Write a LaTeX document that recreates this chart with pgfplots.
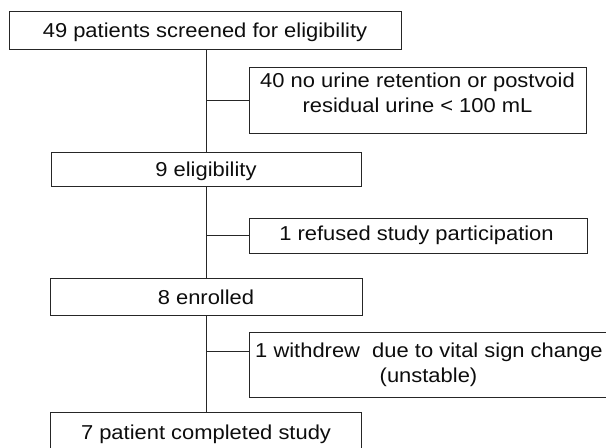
\documentclass[border=0pt]{standalone}
\usepackage{pgfplots}
\pgfplotsset{compat=1.18}
\usepackage{fontspec}
\setmainfont{Liberation Sans}[FakeStretch=1.09]
\begin{document}
\begin{tikzpicture}
\begin{axis}[at={(0,0)},anchor=south west, scale only axis,
  width=606bp, height=448bp, xmin=0, xmax=606, ymin=0, ymax=448,
  y dir=reverse, hide axis, clip=false]
\tikzset{bx/.style={draw=black!85, line width=1bp},
  ln/.style={draw=black!85, line width=0.9bp},
  tx/.style={anchor=base, inner sep=0pt, text=black!95,
    font=\fontsize{20.2}{25}\selectfont}}
% boxes
\draw[bx] (axis cs:9,12) rectangle (axis cs:401,50);
\draw[bx] (axis cs:249,68) rectangle (axis cs:586,133);
\draw[bx] (axis cs:51,152) rectangle (axis cs:361,186);
\draw[bx] (axis cs:249,218) rectangle (axis cs:587,253);
\draw[bx] (axis cs:50,278) rectangle (axis cs:362,315);
\draw[bx] (axis cs:606,332) -- (axis cs:249,332) -- (axis cs:249,397) -- (axis cs:606,397);
\draw[bx] (axis cs:50,448) -- (axis cs:50,412) -- (axis cs:361,412) -- (axis cs:361,448);
% connectors
\draw[ln] (axis cs:206,50) -- (axis cs:206,152);
\draw[ln] (axis cs:206,186) -- (axis cs:206,278);
\draw[ln] (axis cs:206,315) -- (axis cs:206,412);
\draw[ln] (axis cs:206,100) -- (axis cs:249,100);
\draw[ln] (axis cs:206,235) -- (axis cs:249,235);
\draw[ln] (axis cs:206,351) -- (axis cs:249,351);
% texts
\node[tx] at (axis cs:205,37.5) {49 patients screened for eligibility};
\node[tx] at (axis cs:417.5,88) {40 no urine retention or postvoid};
\node[tx] at (axis cs:417.5,112.8) {residual urine < 100 mL};
\node[tx] at (axis cs:206,176) {9 eligibility};
\node[tx] at (axis cs:416.5,240.3) {1 refused study participation};
\node[tx] at (axis cs:206,304.3) {8 enrolled};
\node[tx] at (axis cs:429,357.6) {1 withdrew\ \ due to vital sign change};
\node[tx] at (axis cs:428.5,382.6) {(unstable)};
\node[tx] at (axis cs:206,439.3) {7 patient completed study};
\end{axis}
\pgfresetboundingbox
\path[use as bounding box] (0,0) rectangle (606bp,448bp);
\end{tikzpicture}
\end{document}
